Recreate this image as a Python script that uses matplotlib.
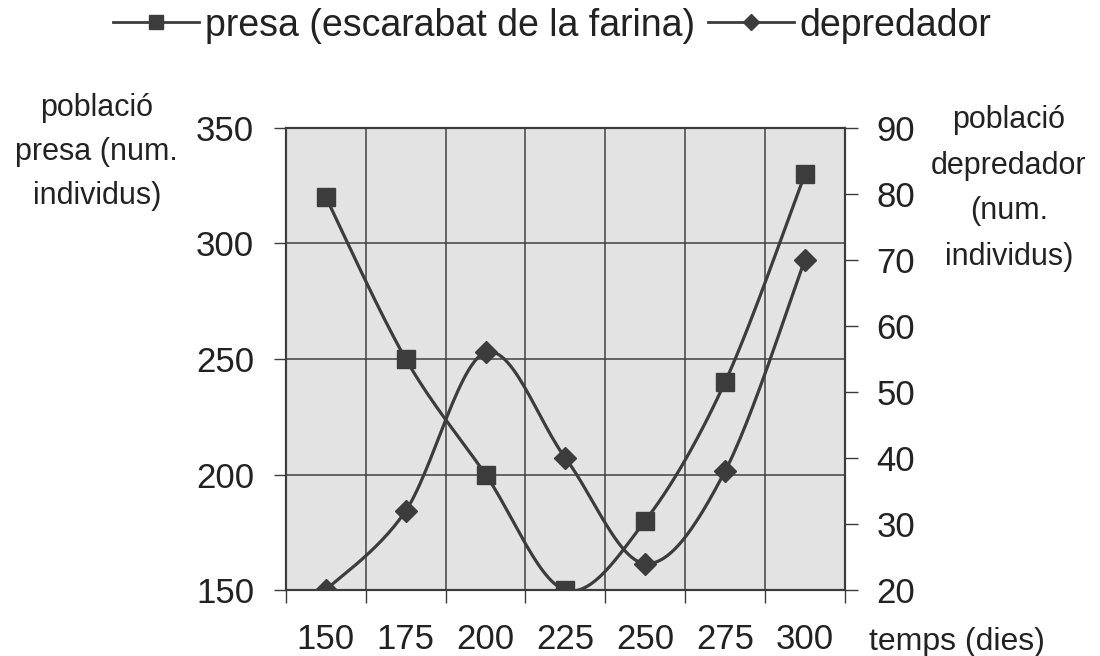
import matplotlib.pyplot as plt
import numpy as np

# dades
temps = ['150', '175', '200', '225', '250', '275', '300']
presa = [320, 250, 200, 150, 180, 240, 330]
depredador = [20, 32, 56, 40, 24, 38, 70]

plt.rcParams['font.family'] = ['Liberation Sans', 'DejaVu Sans']
gris = '#3c3c3c'
text_col = '#222222'


def suavitza(y, n=30):
    # corba suau tipus Excel (Bezier amb punts de control a 1/6)
    x = np.arange(len(y), dtype=float)
    p = np.column_stack([x, np.asarray(y, dtype=float)])
    pts = []
    for i in range(len(p) - 1):
        p0 = p[i - 1] if i > 0 else p[i]
        p3 = p[i + 2] if i + 2 < len(p) else p[i + 1]
        c1 = p[i] + (p[i + 1] - p0) / 6
        c2 = p[i + 1] - (p3 - p[i]) / 6
        t = np.linspace(0, 1, n)[:, None]
        seg = ((1 - t) ** 3) * p[i] + 3 * ((1 - t) ** 2) * t * c1 \
            + 3 * (1 - t) * t ** 2 * c2 + t ** 3 * p[i + 1]
        pts.append(seg if i == 0 else seg[1:])
    pts = np.vstack(pts)
    return pts[:, 0], pts[:, 1]


fig = plt.figure(figsize=(11, 6.56), dpi=100)
ax = fig.add_axes([0.26, 0.1006, 0.508, 0.7043])
ax.set_facecolor('#e3e3e3')
ax2 = ax.twinx()

idx = np.arange(len(temps))
xs, ys = suavitza(presa)
ax.plot(xs, ys, color=gris, lw=2.3, zorder=3)
ax.plot(idx, presa, 's', color=gris, ms=13, zorder=4)

xd, yd = suavitza(depredador)
ax2.plot(xd, yd, color=gris, lw=2.3, zorder=3)
ax2.plot(idx, depredador, 'D', color=gris, ms=11, zorder=4)

ax.set_xlim(-0.5, len(temps) - 0.5)
ax.set_ylim(150, 350)
ax2.set_ylim(20, 90)
ax.set_yticks(range(150, 351, 50))
ax2.set_yticks(range(20, 91, 10))
ax.set_xticks(np.arange(-0.5, len(temps), 1))
ax.set_xticklabels([])
ax.set_xticks(idx, minor=True)
ax.set_xticklabels(temps, minor=True)
ax.grid(True, color='#404040', lw=1.1)

ax.tick_params(axis='x', which='major', length=9, width=1, color=gris, direction='out')
ax.tick_params(axis='x', which='minor', length=0, pad=24, labelsize=25, labelcolor=text_col)
ax.tick_params(axis='y', length=9, width=1, color=gris, pad=14, labelsize=25, labelcolor=text_col)
ax2.tick_params(axis='y', length=9, width=1, color=gris, pad=14, labelsize=25, labelcolor=text_col)
for a in (ax, ax2):
    for s in a.spines.values():
        s.set_color(gris)
        s.set_linewidth(1.5)

fig.text(0.088, 0.858, 'població\npresa (num.\nindividus)', ha='center', va='top',
         fontsize=22, linespacing=1.6, color=text_col)
fig.text(0.917, 0.84, 'població\ndepredador\n(num.\nindividus)', ha='center', va='top',
         fontsize=22, linespacing=1.68, color=text_col)
fig.text(0.87, 0.022, 'temps (dies)', ha='center', va='center', fontsize=23, color=text_col)

l1b, = ax.plot([], [], 's-', color=gris, ms=10, lw=2)
l2b, = ax.plot([], [], 'D-', color=gris, ms=8, lw=2)
fig.legend([l1b, l2b], ['presa (escarabat de la farina)', 'depredador'],
           loc='upper center', bbox_to_anchor=(0.502, 1.04), ncol=2, frameon=False,
           fontsize=27, handlelength=2.3, handletextpad=0.15, columnspacing=0.35,
           labelcolor=text_col)

fig.savefig('out.png', dpi=100)
